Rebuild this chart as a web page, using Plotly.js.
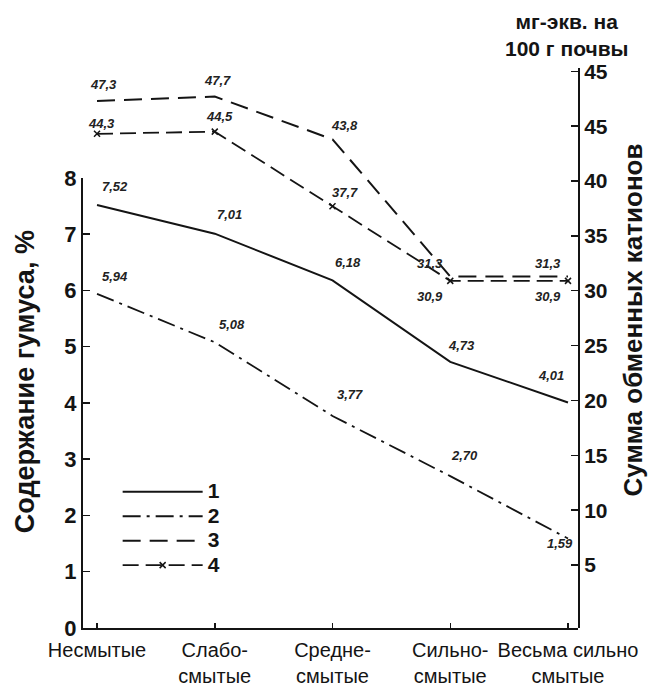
<!DOCTYPE html>
<html><head><meta charset="utf-8">
<script src="https://cdn.plot.ly/plotly-3.0.1.min.js"></script>
<style>body{margin:0;background:#fff}</style>
</head><body><div id="chart" style="width:653px;height:689px"></div>
<script>
// ---- data ----
const categories = ['Несмытые', 'Слабо-<br>смытые', 'Средне-<br>смытые', 'Сильно-<br>смытые', 'Весьма сильно<br>смытые'];
const humus1 = [7.52, 7.01, 6.18, 4.73, 4.01];     // series 1, left axis, %
const humus2 = [5.94, 5.08, 3.77, 2.70, 1.59];     // series 2, left axis, %
const cations3 = [47.3, 47.7, 43.8, 31.3, 31.3];   // series 3, right axis
const cations4 = [44.3, 44.5, 37.7, 30.9, 30.9];   // series 4, right axis
const seriesNames = ['1', '2', '3', '4'];
const leftTickVals = [0, 1, 2, 3, 4, 5, 6, 7, 8];
const rightTickVals = [5, 10, 15, 20, 25, 30, 35, 40, 45, 50];
const rightTickText = ['5', '10', '15', '20', '25', '30', '35', '40', '45', '45'];

// ---- label offsets (styling, px) ----
const off1 = [[18, 18], [15, 19], [15, 18], [11, 16], [-17, 27]];
const off2 = [[18, 17], [17, 18], [17, 21], [14, 21], [-8, -5]];
const off3 = [[6, 16], [3, 16], [12, 14], [-20, 13], [-20, 13]];
const off4 = [[4, 10], [5, 15], [12, 14], [-20, -16], [-20, -16]];

const FONT = 'Liberation Sans, Arial, sans-serif';
const INK = '#141414';
const xs = categories.map((_, i) => i);
const legendLabel = n => '<span style="font-size:21px;font-weight:bold">' + n + '</span>';

const traces = [
  {x: xs, y: humus1, name: legendLabel(seriesNames[0]), xaxis: 'x', yaxis: 'y', mode: 'lines',
   line: {color: INK, width: 2}},
  {x: xs, y: humus2, name: legendLabel(seriesNames[1]), xaxis: 'x', yaxis: 'y', mode: 'lines',
   line: {color: INK, width: 1.8, dash: '18px,6px,3px,6px'}},
  {x: xs, y: cations3, name: legendLabel(seriesNames[2]), xaxis: 'x2', yaxis: 'y2', mode: 'lines',
   line: {color: INK, width: 2, dash: '18px,9px'}},
  {x: xs, y: cations4, name: legendLabel(seriesNames[3]), xaxis: 'x2', yaxis: 'y2', mode: 'lines+markers',
   line: {color: INK, width: 1.8, dash: '16px,7px'},
   marker: {symbol: 'x-thin-open', size: 6, color: INK, line: {width: 1.5, color: INK}}}
];

const fmt = (v, d) => v.toFixed(d).replace('.', ',');
const anns = [];
function addLabels(vals, offs, dec, xr, yr) {
  vals.forEach((v, i) => anns.push({
    x: xs[i], y: v, xref: xr, yref: yr, text: fmt(v, dec), showarrow: false,
    xshift: offs[i][0], yshift: offs[i][1],
    font: {family: FONT, size: 13, color: '#222', style: 'italic', weight: 'bold'}
  }));
}
addLabels(humus1, off1, 2, 'x', 'y');
addLabels(humus2, off2, 2, 'x', 'y');
addLabels(cations3, off3, 1, 'x2', 'y2');
addLabels(cations4, off4, 1, 'x2', 'y2');

anns.push({text: 'Содержание гумуса, %', xref: 'paper', yref: 'paper', x: -0.118, y: 0.44,
  xanchor: 'center', yanchor: 'middle',
  textangle: -90, showarrow: false, font: {family: FONT, size: 27, color: INK, weight: 'bold'}});
anns.push({text: 'Сумма обменных катионов', xref: 'paper', yref: 'paper', x: 1.112, y: 0.55,
  xanchor: 'center', yanchor: 'middle',
  textangle: -90, showarrow: false, font: {family: FONT, size: 26, color: INK, weight: 'bold'}});
anns.push({text: 'мг-экв. на<br>100 г почвы', xref: 'paper', yref: 'paper', x: 0.976, y: 1.059,
  xanchor: 'center', yanchor: 'middle',
  showarrow: false, font: {family: FONT, size: 21, color: INK, weight: 'bold'}});

const xr = [-0.119, 4.085];
const layout = {
  width: 653, height: 689,
  margin: {l: 83, r: 75, t: 68, b: 61},
  paper_bgcolor: '#fff', plot_bgcolor: 'rgba(0,0,0,0)',
  font: {family: FONT, color: INK},
  showlegend: true,
  legend: {x: 0.07, y: 0.274, xanchor: 'left', yanchor: 'top', bgcolor: 'rgba(0,0,0,0)',
    font: {family: FONT, size: 16.5, color: INK}, itemwidth: 80, tracegroupgap: 0},
  xaxis: {domain: [0, 1], anchor: 'y', range: xr, tickvals: xs, ticktext: categories,
    ticks: 'inside', ticklen: 5, tickwidth: 1.5, tickcolor: INK, showline: true, linewidth: 2, linecolor: INK,
    ticklabelstandoff: 3,
    showgrid: false, zeroline: false, tickfont: {family: FONT, size: 20, color: INK}},
  yaxis: {domain: [0, 0.8036], anchor: 'x', range: [0, 8], tickvals: leftTickVals,
    ticks: 'inside', ticklen: 7, tickwidth: 1.5, tickcolor: INK, showline: true, linewidth: 2, linecolor: INK,
    showgrid: false, zeroline: false, tickfont: {family: FONT, size: 22, color: INK, weight: 'bold'}},
  xaxis2: {domain: [0, 1], anchor: 'y2', range: xr, visible: false, showgrid: false, zeroline: false},
  yaxis2: {domain: [0, 1], anchor: 'x2', side: 'right', range: [-0.74, 50.3],
    tickvals: rightTickVals, ticktext: rightTickText,
    ticks: 'inside', ticklen: 7, tickwidth: 1.5, tickcolor: INK, showline: true, linewidth: 2, linecolor: INK,
    showgrid: false, zeroline: false, tickfont: {family: FONT, size: 21, color: INK, weight: 'bold'}},
  annotations: anns
};

Plotly.newPlot('chart', traces, layout, {staticPlot: true, displayModeBar: false});
</script>
</body></html>
